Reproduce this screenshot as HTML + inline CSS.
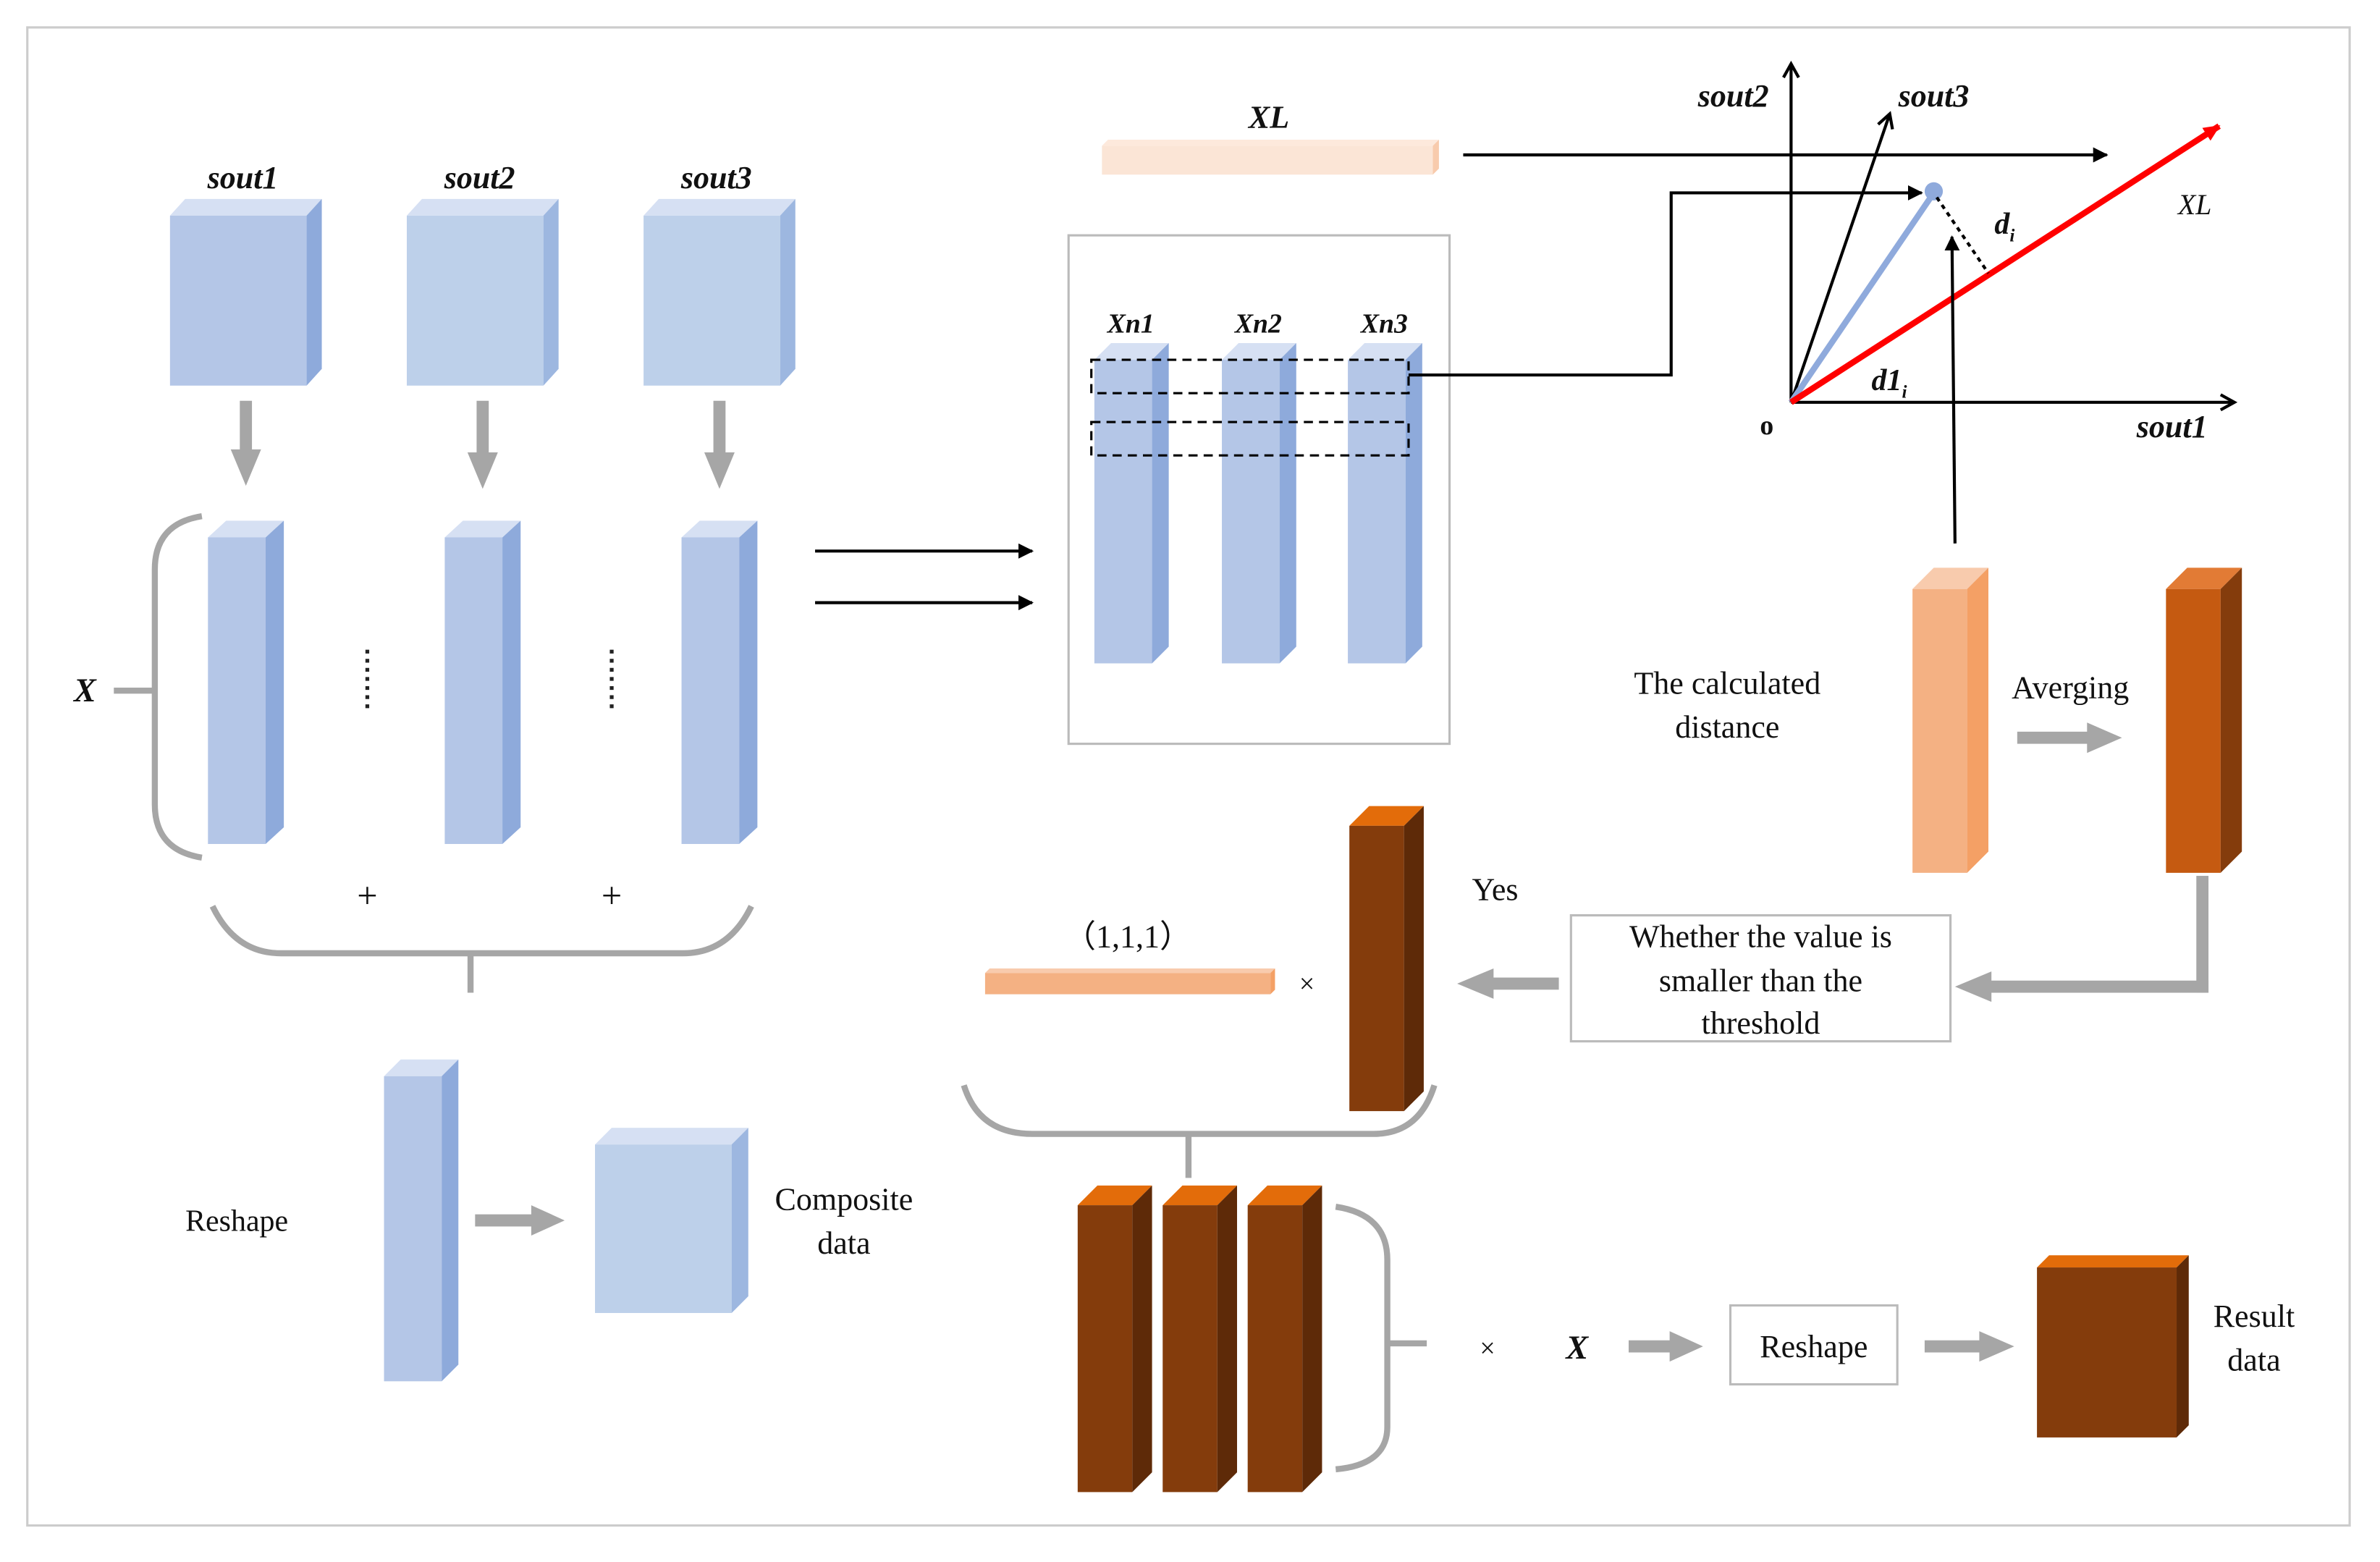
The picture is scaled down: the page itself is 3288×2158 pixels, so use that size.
<!DOCTYPE html>
<html><head><meta charset="utf-8"><style>
html,body{margin:0;padding:0;background:#fff;}
svg{display:block;}
text{font-family:"Liberation Serif",serif;fill:#111;}
.it{font-style:italic;font-weight:bold;}
</style></head><body>
<svg width="3288" height="2158" viewBox="0 0 1568 1029" xmlns="http://www.w3.org/2000/svg">
<defs>
<marker id="ab" markerWidth="10" markerHeight="10" refX="9" refY="5" orient="auto" markerUnits="userSpaceOnUse"><path d="M0,0 L10,5 L0,10 z" fill="#000"/></marker>
<marker id="ao" markerWidth="12" markerHeight="12" refX="10" refY="6" orient="auto" markerUnits="userSpaceOnUse"><path d="M1,1 L10,6 L1,11" fill="none" stroke="#000" stroke-width="2"/></marker>
<marker id="ar" markerWidth="12" markerHeight="12" refX="10" refY="6" orient="auto" markerUnits="userSpaceOnUse"><path d="M0,1 L11,6 L0,11 z" fill="#f00"/></marker>
</defs>
<rect x="18" y="18" width="1530" height="987" fill="none" stroke="#ccc" stroke-width="1.5"/>

<g>
<polygon points="112,142 122,131 212,131 202,142" fill="#d6e0f3"/><rect x="112" y="142" width="90" height="112" fill="#b4c6e7"/><polygon points="202,142 212,131 212,243 202,254" fill="#8eaadb"/>
<polygon points="268,142 278,131 368,131 358,142" fill="#d6e0f3"/><rect x="268" y="142" width="90" height="112" fill="#bdd0ea"/><polygon points="358,142 368,131 368,243 358,254" fill="#9db7e0"/>
<polygon points="424,142 434,131 524,131 514,142" fill="#d6e0f3"/><rect x="424" y="142" width="90" height="112" fill="#bdd0ea"/><polygon points="514,142 524,131 524,243 514,254" fill="#9db7e0"/>
</g>
<text x="160" y="124" font-size="21" text-anchor="middle" class="it">sout1</text>
<text x="316" y="124" font-size="21" text-anchor="middle" class="it">sout2</text>
<text x="472" y="124" font-size="21" text-anchor="middle" class="it">sout3</text>

<g fill="#a6a6a6">
<rect x="158" y="264" width="8" height="34"/><polygon points="152,296 172,296 162,320"/>
<rect x="314" y="264" width="8" height="36"/><polygon points="308,298 328,298 318,322"/>
<rect x="470" y="264" width="8" height="36"/><polygon points="464,298 484,298 474,322"/>
<rect x="313" y="800" width="40" height="8"/><polygon points="350,794 350,814 372,804"/>
<rect x="1329" y="482" width="48" height="8"/><polygon points="1375,476 1375,496 1398,486"/>
<rect x="1073" y="883" width="30" height="8"/><polygon points="1100,877 1100,897 1122,887"/>
<rect x="1268" y="883" width="38" height="8"/><polygon points="1304,877 1304,897 1327,887"/>
<rect x="982" y="644" width="45" height="8"/><polygon points="984,638 984,658 960,648"/>
<rect x="1447" y="577" width="8" height="77"/><rect x="1310" y="646" width="145" height="8"/><polygon points="1312,640 1312,660 1288,650"/>
</g>

<g>
<polygon points="137,354 149,343 187,343 175,354" fill="#d6e0f3"/><rect x="137" y="354" width="38" height="202" fill="#b4c6e7"/><polygon points="175,354 187,343 187,545 175,556" fill="#8eaadb"/>
<polygon points="293,354 305,343 343,343 331,354" fill="#d6e0f3"/><rect x="293" y="354" width="38" height="202" fill="#b4c6e7"/><polygon points="331,354 343,343 343,545 331,556" fill="#8eaadb"/>
<polygon points="449,354 461,343 499,343 487,354" fill="#d6e0f3"/><rect x="449" y="354" width="38" height="202" fill="#b4c6e7"/><polygon points="487,354 499,343 499,545 487,556" fill="#8eaadb"/>
</g>
<g stroke="#222" stroke-width="2.5" stroke-dasharray="2.5,3.5">
<line x1="242" y1="428" x2="242" y2="470"/><line x1="403" y1="428" x2="403" y2="470"/>
</g>
<g fill="none" stroke="#a6a6a6" stroke-width="4">
<path d="M133,340 Q102,345 102,375 L102,530 Q102,560 133,565"/>
<line x1="75" y1="455" x2="102" y2="455"/>
<path d="M140,597 Q155,628 185,628 L450,628 Q480,628 495,597"/>
<line x1="310" y1="628" x2="310" y2="654"/>
</g>
<text x="56" y="462" font-size="22" text-anchor="middle" class="it">X</text>
<text x="242" y="598" font-size="24" text-anchor="middle">+</text>
<text x="403" y="598" font-size="24" text-anchor="middle">+</text>

<polygon points="253,709 264,698 302,698 291,709" fill="#d6e0f3"/><rect x="253" y="709" width="38" height="201" fill="#b4c6e7"/><polygon points="291,709 302,698 302,899 291,910" fill="#8eaadb"/>
<polygon points="392,754 403,743 493,743 482,754" fill="#d6e0f3"/><rect x="392" y="754" width="90" height="111" fill="#bdd0ea"/><polygon points="482,754 493,743 493,854 482,865" fill="#9db7e0"/>
<text x="156" y="811" font-size="20" text-anchor="middle">Reshape</text>
<text x="556" y="797" font-size="21" text-anchor="middle">Composite</text>
<text x="556" y="826" font-size="21" text-anchor="middle">data</text>

<line x1="537" y1="363" x2="680" y2="363" stroke="#000" stroke-width="2" marker-end="url(#ab)"/>
<line x1="537" y1="397" x2="680" y2="397" stroke="#000" stroke-width="2" marker-end="url(#ab)"/>

<rect x="704" y="155" width="251" height="335" fill="none" stroke="#bbb" stroke-width="1.5"/>
<g>
<polygon points="721,237 732,226 770,226 759,237" fill="#d6e0f3"/><rect x="721" y="237" width="38" height="200" fill="#b4c6e7"/><polygon points="759,237 770,226 770,426 759,437" fill="#8eaadb"/>
<polygon points="805,237 816,226 854,226 843,237" fill="#d6e0f3"/><rect x="805" y="237" width="38" height="200" fill="#b4c6e7"/><polygon points="843,237 854,226 854,426 843,437" fill="#8eaadb"/>
<polygon points="888,237 899,226 937,226 926,237" fill="#d6e0f3"/><rect x="888" y="237" width="38" height="200" fill="#b4c6e7"/><polygon points="926,237 937,226 937,426 926,437" fill="#8eaadb"/>
</g>
<text x="745" y="219" font-size="18" text-anchor="middle" class="it">Xn1</text>
<text x="829" y="219" font-size="18" text-anchor="middle" class="it">Xn2</text>
<text x="912" y="219" font-size="18" text-anchor="middle" class="it">Xn3</text>
<g fill="none" stroke="#000" stroke-width="1.5" stroke-dasharray="6,4">
<rect x="719" y="237" width="209" height="22"/><rect x="719" y="278" width="209" height="22"/>
</g>

<polygon points="726,96 730,92 948,92 944,96" fill="#fde9dc"/><rect x="726" y="96" width="218" height="19" fill="#fbe5d6"/><polygon points="944,96 948,92 948,111 944,115" fill="#f8cbad"/>
<text x="836" y="84" font-size="21" text-anchor="middle" class="it">XL</text>
<line x1="964" y1="102" x2="1388" y2="102" stroke="#000" stroke-width="2" marker-end="url(#ab)"/>
<polyline points="928,247 1101,247 1101,127 1266,127" fill="none" stroke="#000" stroke-width="2" marker-end="url(#ab)"/>

<line x1="1180" y1="265" x2="1180" y2="42" stroke="#000" stroke-width="2" marker-end="url(#ao)"/>
<line x1="1180" y1="265" x2="1472" y2="265" stroke="#000" stroke-width="2" marker-end="url(#ao)"/>
<line x1="1180" y1="265" x2="1245" y2="75" stroke="#000" stroke-width="2" marker-end="url(#ao)"/>
<line x1="1180" y1="265" x2="1274" y2="127" stroke="#8faadc" stroke-width="4"/>
<circle cx="1274" cy="126" r="6" fill="#8faadc"/>
<line x1="1180" y1="265" x2="1462" y2="83" stroke="#f00" stroke-width="4" marker-end="url(#ar)"/>
<line x1="1276" y1="130" x2="1310" y2="180" stroke="#000" stroke-width="2" stroke-dasharray="3,3"/>
<line x1="1288" y1="358" x2="1286" y2="156" stroke="#000" stroke-width="2" marker-end="url(#ab)"/>
<text x="1142" y="70" font-size="21" text-anchor="middle" class="it">sout2</text>
<text x="1274" y="70" font-size="21" text-anchor="middle" class="it">sout3</text>
<text x="1431" y="288" font-size="21" text-anchor="middle" class="it">sout1</text>
<text x="1446" y="141" font-size="19" text-anchor="middle" font-style="italic">XL</text>
<text x="1314" y="154" font-size="20" class="it">d<tspan font-size="12" dy="5">i</tspan></text>
<text x="1233" y="257" font-size="20" class="it">d1<tspan font-size="12" dy="5">i</tspan></text>
<text x="1164" y="286" font-size="18" text-anchor="middle" font-weight="bold">o</text>

<polygon points="1260,388 1274,374 1310,374 1296,388" fill="#f8cbad"/><rect x="1260" y="388" width="36" height="187" fill="#f4b183"/><polygon points="1296,388 1310,374 1310,561 1296,575" fill="#f4a065"/>
<polygon points="1427,388 1441,374 1477,374 1463,388" fill="#e27b35"/><rect x="1427" y="388" width="36" height="187" fill="#c55a11"/><polygon points="1463,388 1477,374 1477,561 1463,575" fill="#843c0c"/>
<text x="1138" y="457" font-size="21" text-anchor="middle">The calculated</text>
<text x="1138" y="486" font-size="21" text-anchor="middle">distance</text>
<text x="1364" y="460" font-size="21" text-anchor="middle">Averging</text>

<rect x="1035" y="603" width="250" height="83" fill="#fff" stroke="#bbb" stroke-width="1.5"/>
<text x="1160" y="624" font-size="21" text-anchor="middle">Whether the value is</text>
<text x="1160" y="653" font-size="21" text-anchor="middle">smaller than the</text>
<text x="1160" y="681" font-size="21" text-anchor="middle">threshold</text>
<text x="985" y="593" font-size="21" text-anchor="middle">Yes</text>

<polygon points="649,641 652,638 840,638 837,641" fill="#f8cbad"/><rect x="649" y="641" width="188" height="14" fill="#f4b183"/><polygon points="837,641 840,638 840,652 837,655" fill="#f4a065"/>
<text x="743" y="624" font-size="21" text-anchor="middle" font-family="Liberation Serif, Noto Serif CJK SC, serif">（1,1,1）</text>
<text x="861" y="654" font-size="18" text-anchor="middle">×</text>
<polygon points="889,544 902,531 938,531 925,544" fill="#e36c0a"/><rect x="889" y="544" width="36" height="188" fill="#843c0c"/><polygon points="925,544 938,531 938,719 925,732" fill="#5e2a08"/>
<g fill="none" stroke="#a6a6a6" stroke-width="4">
<path d="M635,715 Q645,747 680,747 L905,747 Q935,747 945,715"/>
<line x1="783" y1="747" x2="783" y2="776"/>
<path d="M880,795 Q914,800 914,830 L914,940 Q914,965 880,968"/>
<line x1="914" y1="885" x2="940" y2="885"/>
</g>

<g>
<polygon points="710,794 723,781 759,781 746,794" fill="#e36c0a"/><rect x="710" y="794" width="36" height="189" fill="#843c0c"/><polygon points="746,794 759,781 759,970 746,983" fill="#5e2a08"/>
<polygon points="766,794 779,781 815,781 802,794" fill="#e36c0a"/><rect x="766" y="794" width="36" height="189" fill="#843c0c"/><polygon points="802,794 815,781 815,970 802,983" fill="#5e2a08"/>
<polygon points="822,794 835,781 871,781 858,794" fill="#e36c0a"/><rect x="822" y="794" width="36" height="189" fill="#843c0c"/><polygon points="858,794 871,781 871,970 858,983" fill="#5e2a08"/>
</g>
<text x="980" y="894" font-size="18" text-anchor="middle">×</text>
<text x="1039" y="895" font-size="22" text-anchor="middle" class="it">X</text>
<rect x="1140" y="860" width="110" height="52" fill="#fff" stroke="#bbb" stroke-width="1.5"/>
<text x="1195" y="894" font-size="21" text-anchor="middle">Reshape</text>
<polygon points="1342,835 1350,827 1442,827 1434,835" fill="#e36c0a"/><rect x="1342" y="835" width="92" height="112" fill="#843c0c"/><polygon points="1434,835 1442,827 1442,939 1434,947" fill="#5e2a08"/>
<text x="1485" y="874" font-size="21" text-anchor="middle">Result</text>
<text x="1485" y="903" font-size="21" text-anchor="middle">data</text>
</svg>
</body></html>
